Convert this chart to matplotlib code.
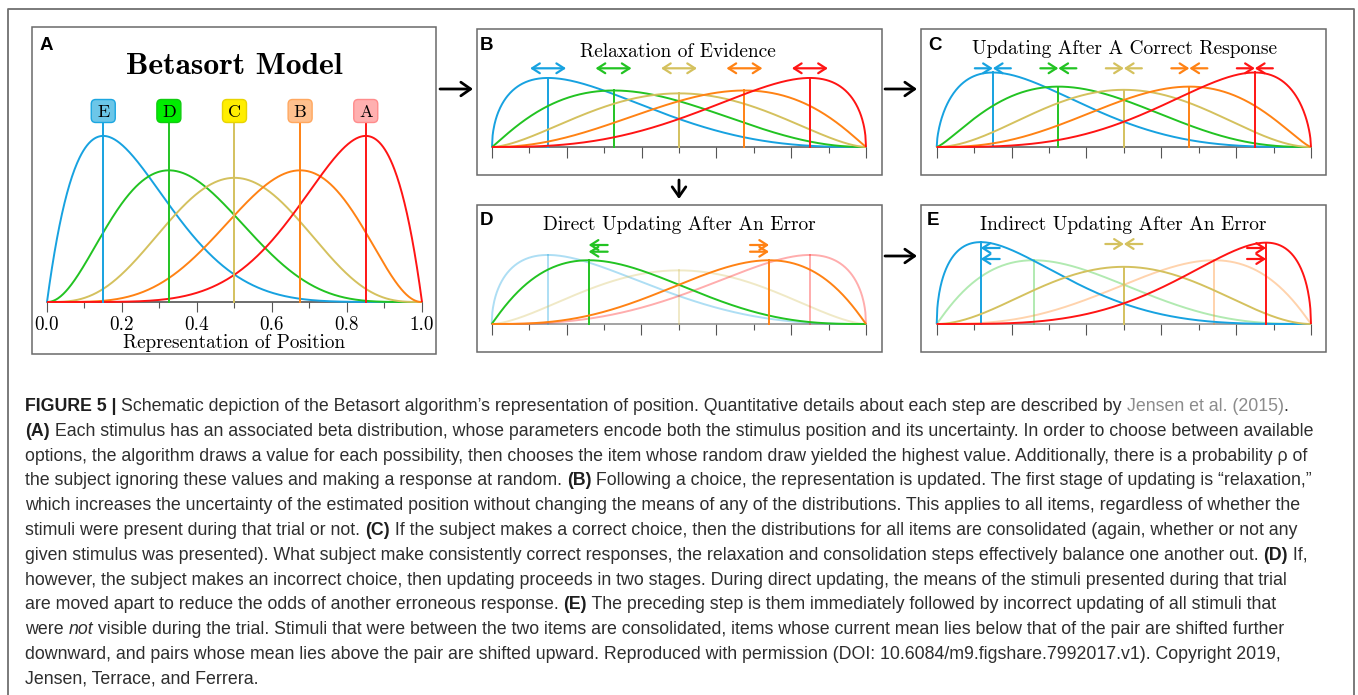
import numpy as np
import matplotlib.pyplot as plt
from math import lgamma
from matplotlib.patches import Rectangle, FancyBboxPatch, FancyArrowPatch
from matplotlib.lines import Line2D

W, H, DPI = 1358, 695, 100

ITEMS = ["E", "D", "C", "B", "A"]
LINE_COLORS = ["#17a2e0", "#22c322", "#d4c15e", "#ff8214", "#ff1414"]
TAG_FILLS = ["#6cc6e8", "#00ee00", "#ffee00", "#ffc08e", "#ffb0b0"]
TAG_EDGES = ["#1ba6e0", "#10cc10", "#e8d400", "#ffa860", "#ff8c8c"]

TICKS_MAJOR = [0.0, 0.2, 0.4, 0.6, 0.8, 1.0]
TICKS_MINOR = [0.1, 0.3, 0.5, 0.7, 0.9]
TICK_LABELS = ["0.0", "0.2", "0.4", "0.6", "0.8", "1.0"]

# mode and concentration (alpha + beta - 2) of each item's beta curve, per panel
MODE_A = [0.15, 0.325, 0.5, 0.675, 0.85]
CONC_A = [6.67, 6.67, 6.67, 6.67, 6.67]
MODE_B = [0.15, 0.325, 0.5, 0.675, 0.85]
CONC_B = [3.33, 3.33, 3.33, 3.33, 3.33]
MODE_C = [0.15, 0.325, 0.5, 0.675, 0.85]
CONC_C = [4.0, 4.0, 4.0, 4.0, 4.0]
MODE_D = [0.15, 0.259, 0.5, 0.741, 0.85]
CONC_D = [3.33, 4.0, 3.33, 4.0, 3.33]
FADED_D = [True, False, True, False, True]
MODE_E = [0.1175, 0.259, 0.5, 0.741, 0.88]
CONC_E = [4.2, 4.0, 4.0, 4.0, 4.2]
FADED_E = [False, True, False, True, False]

# update markers drawn above each item
MARKS_B = ["spread"] * 5
MARKS_C = ["squeeze"] * 5
MARKS_D = [None, "left", None, "right", None]
MARKS_E = ["left", None, "squeeze", None, "right"]

TITLES = {
    "B": "Relaxation of Evidence",
    "C": "Updating After A Correct Response",
    "D": "Direct Updating After An Error",
    "E": "Indirect Updating After An Error",
}

CAPTION_LINES = [
    [("FIGURE 5 | ", "b"),
     ("Schematic depiction of the Betasort algorithm\u2019s representation of position. "
      "Quantitative details about each step are described by ", "n"),
     ("Jensen et al. (2015)", "g"), (".", "n")],
    [("(A)", "b"),
     (" Each stimulus has an associated beta distribution, whose parameters encode both the "
      "stimulus position and its uncertainty. In order to choose between available", "n")],
    [("options, the algorithm draws a value for each possibility, then chooses the item whose "
      "random draw yielded the highest value. Additionally, there is a probability \u03c1 of", "n")],
    [("the subject ignoring these values and making a response at random. ", "n"), ("(B)", "b"),
     (" Following a choice, the representation is updated. The first stage of updating is "
      "\u201crelaxation,\u201d", "n")],
    [("which increases the uncertainty of the estimated position without changing the means of "
      "any of the distributions. This applies to all items, regardless of whether the", "n")],
    [("stimuli were present during that trial or not. ", "n"), ("(C)", "b"),
     (" If the subject makes a correct choice, then the distributions for all items are "
      "consolidated (again, whether or not any", "n")],
    [("given stimulus was presented). What subject make consistently correct responses, the "
      "relaxation and consolidation steps effectively balance one another out. ", "n"),
     ("(D)", "b"), (" If,", "n")],
    [("however, the subject makes an incorrect choice, then updating proceeds in two stages. "
      "During direct updating, the means of the stimuli presented during that trial", "n")],
    [("are moved apart to reduce the odds of another erroneous response. ", "n"), ("(E)", "b"),
     (" The preceding step is them immediately followed by incorrect updating of all stimuli "
      "that", "n")],
    [("were ", "n"), ("not", "i"),
     (" visible during the trial. Stimuli that were between the two items are consolidated, "
      "items whose current mean lies below that of the pair are shifted further", "n")],
    [("downward, and pairs whose mean lies above the pair are shifted upward. Reproduced with "
      "permission (DOI: 10.6084/m9.figshare.7992017.v1). Copyright 2019,", "n")],
    [("Jensen, Terrace, and Ferrera.", "n")],
]


def beta_pdf(x, a, b):
    lnb = lgamma(a) + lgamma(b) - lgamma(a + b)
    x = np.asarray(x, dtype=float)
    with np.errstate(divide="ignore"):
        return np.exp((a - 1) * np.log(x) + (b - 1) * np.log1p(-x) - lnb)


fig = plt.figure(figsize=(W / DPI, H / DPI), dpi=DPI)


def fx(px):
    return px / W


def fy(py):
    return 1 - py / H


def add_panel(box, x0, x1, yb, scale, base_color, tick_len):
    left, top, right, bottom = box
    ax = fig.add_axes([fx(left), fy(bottom), (right - left) / W, (bottom - top) / H])
    s = x1 - x0
    ax.set_xlim((left - x0) / s, (right - x0) / s)
    ax.set_ylim(-(bottom - yb) / scale, (yb - top) / scale)
    for side in ["left", "right", "top"]:
        ax.spines[side].set_visible(False)
    ax.spines["bottom"].set_position(("data", 0))
    ax.spines["bottom"].set_bounds(0, 1)
    ax.spines["bottom"].set_color(base_color)
    ax.spines["bottom"].set_linewidth(1.1)
    ax.set_yticks([])
    ax.set_xticks(TICKS_MAJOR)
    ax.set_xticks(TICKS_MINOR, minor=True)
    ax.tick_params(axis="x", which="major", direction="out", length=tick_len[0],
                   width=0.8, color="#555555", labelbottom=False)
    ax.tick_params(axis="x", which="minor", direction="out", length=tick_len[1],
                   width=0.8, color="#555555")
    ax.add_patch(Rectangle((0, 0), 1, 1, transform=ax.transAxes, fill=False,
                           ec="#6a6a6a", lw=1.1, clip_on=False, zorder=10))
    ax.px = (s, scale, yb)
    return ax


def draw_curves(ax, modes, concs, faded=None, stems=True):
    x = np.linspace(0, 1, 600)
    tops = []
    for i, (m, c) in enumerate(zip(modes, concs)):
        a, b = 1 + m * c, 1 + (1 - m) * c
        alpha = 0.35 if faded is not None and faded[i] else 1.0
        z = 3 if alpha < 1 else 4
        ax.plot(x, beta_pdf(x, a, b), color=LINE_COLORS[i], lw=1.4, alpha=alpha,
                zorder=z, solid_capstyle="butt")
        peak = float(beta_pdf(m, a, b))
        tops.append(peak)
        if stems:
            ax.plot([m, m], [0, peak], color=LINE_COLORS[i], lw=1.4, alpha=alpha, zorder=z)
    return tops


def draw_marks(ax, modes, marks, y_single, y_pair, half_px, short_px):
    s, scale, yb = ax.px
    hw = half_px / s
    sl = short_px / s
    style = "->,head_length=0.5,head_width=0.32"
    for i, (m, kind) in enumerate(zip(modes, marks)):
        c = LINE_COLORS[i]
        if kind == "spread":
            ax.annotate("", xy=(m + hw, y_single), xytext=(m - hw, y_single),
                        arrowprops=dict(arrowstyle="<->,head_length=0.5,head_width=0.32",
                                        color=c, lw=1.6, shrinkA=0, shrinkB=0,
                                        mutation_scale=11))
        elif kind == "squeeze":
            for sgn in (-1, 1):
                ax.annotate("", xy=(m, y_single), xytext=(m + sgn * hw, y_single),
                            arrowprops=dict(arrowstyle=style, color=c, lw=1.6,
                                            shrinkA=0, shrinkB=0, mutation_scale=11))
        elif kind in ("left", "right"):
            sgn = 1 if kind == "left" else -1
            for y in y_pair:
                ax.annotate("", xy=(m, y), xytext=(m + sgn * sl, y),
                            arrowprops=dict(arrowstyle=style, color=c, lw=1.6,
                                            shrinkA=0, shrinkB=0, mutation_scale=11))


# panel A
axA = add_panel((32, 27, 436, 354), 47, 422, 302, 54.4, "#444444", (7.2, 4.0))
draw_curves(axA, MODE_A, CONC_A, stems=False)
tag_w = 24 / 375
tag_h = 23 / 54.4
tag_y = (302 - 111) / 54.4
for i, m in enumerate(MODE_A):
    axA.plot([m, m], [0, tag_y - tag_h / 2], color=LINE_COLORS[i], lw=1.4, zorder=4)
    axA.add_patch(FancyBboxPatch((m - tag_w / 2, tag_y - tag_h / 2), tag_w, tag_h,
                                 boxstyle="round,pad=0,rounding_size=0.012",
                                 mutation_aspect=375 / 54.4, fc=TAG_FILLS[i],
                                 ec=TAG_EDGES[i], lw=1.0, zorder=5))
    axA.text(m, tag_y, ITEMS[i], ha="center", va="center_baseline", family="cmr10",
             fontsize=13, zorder=6)
axA.tick_params(axis="x", which="major", labelbottom=True, pad=3)
axA.set_xticklabels(TICK_LABELS, family="cmr10", fontsize=13.8)
axA.set_xlabel("Representation of Position", family="cmr10", fontsize=13.8, labelpad=0)
axA.text(0.5, (302 - 63) / 54.4, "Betasort Model", ha="center", va="center_baseline",
         family="cmb10", fontsize=22.8)

# panel B
axB = add_panel((476.7, 29, 881.7, 175.3), 492, 866, 147, 30.5, "#555555", (8.0, 4.3))
draw_curves(axB, MODE_B, CONC_B)
draw_marks(axB, MODE_B, MARKS_B, (147 - 68.3) / 30.5, None, 18, 19)

# panel C
axC = add_panel((921, 29, 1326, 175.3), 936.7, 1311, 147, 30.5, "#555555", (8.0, 4.3))
draw_curves(axC, MODE_C, CONC_C)
draw_marks(axC, MODE_C, MARKS_C, (147 - 68.3) / 30.5, None, 18, 19)

# panel D
axD = add_panel((476.7, 205, 881.7, 352), 491.7, 866, 324, 30.5, "#8a8a8a", (8.0, 4.3))
draw_curves(axD, MODE_D, CONC_D, faded=FADED_D)
draw_marks(axD, MODE_D, MARKS_D, None,
           [(324 - 245) / 30.5, (324 - 251.7) / 30.5], 18, 19)

# panel E
axE = add_panel((921, 205, 1326, 352), 936.7, 1311, 324, 30.5, "#8a8a8a", (8.0, 4.3))
draw_curves(axE, MODE_E, CONC_E, faded=FADED_E)
draw_marks(axE, MODE_E, MARKS_E, (324 - 244) / 30.5,
           [(324 - 248) / 30.5, (324 - 259) / 30.5], 18.5, 19)

# panel titles and letters
title_pos = {"B": (678, 50), "C": (1124, 47.3), "D": (679, 223.3), "E": (1123, 223.3)}
for key, (px, py) in title_pos.items():
    fig.text(fx(px), fy(py), TITLES[key], ha="center", va="center_baseline",
             family="cmr10", fontsize=14)
letter_pos = {"A": (46, 43), "B": (486.7, 43.3), "C": (935, 43.3),
              "D": (486.7, 218.3), "E": (932.7, 218.3)}
for key, (px, py) in letter_pos.items():
    fig.text(fx(px), fy(py), key, ha="center", va="center_baseline",
             family="Liberation Sans", weight="bold", fontsize=13.5)

# flow arrows between panels
flow = [((440, 89), (473, 89)), ((885, 89), (917, 89)),
        ((679, 180), (679, 199)), ((885, 256), (917, 256))]
for (xa, ya), (xb, yb) in flow:
    fig.add_artist(FancyArrowPatch((fx(xa), fy(ya)), (fx(xb), fy(yb)),
                                   transform=fig.transFigure,
                                   arrowstyle="->,head_length=0.5,head_width=0.35",
                                   mutation_scale=14, lw=2.0, color="black",
                                   shrinkA=0, shrinkB=0))

# outer frame (open at the bottom)
fig.add_artist(Line2D([fx(8), fx(8), fx(1354), fx(1354)], [0, fy(9), fy(9), 0],
                      transform=fig.transFigure, color="#707070", lw=1.3))

# caption
renderer = fig.canvas.get_renderer()
STYLES = {
    "n": dict(color="#2e2e2e"),
    "b": dict(color="#1e1e1e", weight="bold"),
    "i": dict(color="#2e2e2e", style="italic"),
    "g": dict(color="#8c8c8c"),
}


def seg_width(text, size, style):
    kw = dict(family="Liberation Sans", fontsize=size, **STYLES[style])
    t = fig.text(0, 0, "|" + text + "|", **kw)
    w1 = t.get_window_extent(renderer).width
    t.remove()
    t = fig.text(0, 0, "||", **kw)
    w0 = t.get_window_extent(renderer).width
    t.remove()
    return w1 - w0


ref_width = sum(seg_width(t, 10, s) for t, s in CAPTION_LINES[1])
cap_size = 10 * (1323 - 25) / ref_width

for li, line in enumerate(CAPTION_LINES):
    x = 25
    y = 411 + li * 24.8
    for text, style in line:
        fig.text(fx(x), fy(y), text, ha="left", va="baseline", family="Liberation Sans",
                 fontsize=cap_size, **STYLES[style])
        x += seg_width(text, cap_size, style)

fig.savefig("out.png", dpi=DPI)
